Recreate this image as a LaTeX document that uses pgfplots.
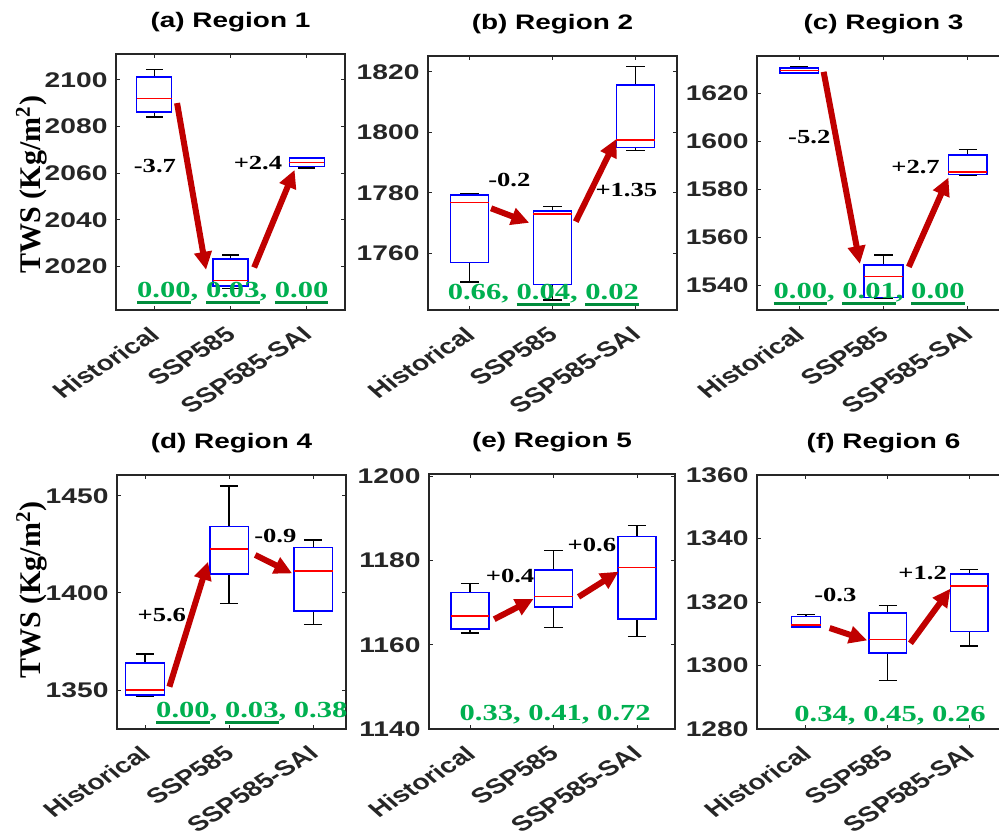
\documentclass[border=0pt]{standalone}
\usepackage{pgfplots}
\pgfplotsset{compat=1.18}
\usepgfplotslibrary{statistics}
\usetikzlibrary{arrows.meta}
\usepackage{fontspec}
\setmainfont{Liberation Sans}
\newfontfamily\tnr{Liberation Serif}
\definecolor{axgray}{RGB}{38,38,38}
\definecolor{pgreen}{RGB}{0,176,80}
\definecolor{ugreen}{RGB}{0,140,60}
\definecolor{arrred}{RGB}{192,0,0}

\newsavebox\ulbox
\newcommand{\ul}[1]{\sbox\ulbox{#1}\rlap{\color{ugreen}\rule[-3.3pt]{\wd\ulbox}{1.5pt}}\usebox\ulbox}

\tikzset{
  ann/.style={font=\tnr\bfseries\fontsize{10}{12}\selectfont, text=black, inner sep=0pt, xscale=1.33},
  pv/.style={font=\tnr\bfseries\fontsize{11.5}{13}\selectfont, text=pgreen, inner sep=0pt, xscale=1.33},
  arr/.style={draw=arrred, line width=3pt, -{Triangle[length=9pt, width=8.5pt]}},
}
\pgfplotsset{
  boxplot/every box/.style={draw=blue, line width=0.75pt},
  boxplot/every median/.style={draw=red, line width=0.75pt},
  boxplot/every whisker/.style={draw=black, line width=0.65pt},
  panel/.style={
    scale only axis, anchor=north west, clip=false,
    axis line style={draw=axgray, line width=0.8pt},
    major tick style={draw=axgray, line width=0.5pt},
    major tick length=2.2pt, tick align=inside,
    xtick={1,2,3}, xticklabels={Historical,SSP585,SSP585-SAI},
    xticklabel style={font=\bfseries\fontsize{10.6}{12}\selectfont, text=axgray, inner sep=0pt, anchor=north east, xshift=-3pt, yshift=-7.5pt, xscale=1.33, rotate=40},
    yticklabel style={font=\bfseries\fontsize{10.6}{12}\selectfont, text=axgray, inner sep=0pt, anchor=east, xshift=-4pt, xscale=1.33},
    /pgf/number format/assume math mode=true,
    /pgf/number format/1000 sep={},
    title style={font=\bfseries\fontsize{10.5}{12}\selectfont, text=black, at={(rel axis cs:0.5,1)}, anchor=center, yshift=9.75pt, xscale=1.33},
    ylabel style={font=\tnr\bfseries\fontsize{15}{17}\selectfont, anchor=center},
    boxplot/draw direction=y,
    boxplot/box extend=0.46,
    boxplot/whisker extend=0.22,
  },
}
\newcommand{\bx}[6]{\addplot[boxplot prepared={draw position=#1, lower whisker=#2, lower quartile=#3, median=#4, upper quartile=#5, upper whisker=#6}] coordinates {};}
\newcommand{\arrow}[4]{\draw[arr] (axis cs:#1,#2) -- (axis cs:#3,#4);}

\begin{document}
\begin{tikzpicture}
% (a)
\begin{axis}[panel, at={(58pt,-27pt)}, width=114.5pt, height=128pt,
  xmin=0.5, xmax=3.5, ymin=2001.4, ymax=2111, ytick={2020,2040,2060,2080,2100},
  title={(a) Region 1}, ylabel={TWS (Kg/m\textsuperscript{2})},
  ylabel style={at={(axis description cs:-0.369,0.49)}}]
\bx{1}{2084.0}{2086.2}{2091.9}{2101.1}{2104.3}
\bx{2}{2010.7}{2011.7}{2014.0}{2023.3}{2025.0}
\bx{3}{2062.2}{2062.9}{2064.6}{2066.4}{2066.8}
\arrow{1.30}{2090}{1.68}{2018.6}
\arrow{2.31}{2019.6}{2.84}{2061.4}
\node[ann] at (axis cs:1.01,2062.9) {-3.7};
\node[ann] at (axis cs:2.36,2064.3) {+2.4};
\node[pv] at (axis cs:2.03,2008.7) {\ul{0.00}, \ul{0.03}, \ul{0.00}};
\end{axis}
% (b)
\begin{axis}[panel, at={(214pt,-28pt)}, width=124.5pt, height=127pt,
  xmin=0.5, xmax=3.5, ymin=1741.3, ymax=1825.2, ytick={1760,1780,1800,1820},
  title={(b) Region 2}]
\bx{1}{1750.6}{1757.0}{1776.8}{1779.3}{1779.8}
\bx{2}{1744.6}{1749.8}{1773.0}{1774.0}{1775.4}
\bx{3}{1794.1}{1794.9}{1797.4}{1815.6}{1821.7}
\arrow{1.26}{1774.9}{1.72}{1770.1}
\arrow{2.28}{1770.5}{2.77}{1797.8}
\node[ann] at (axis cs:1.48,1784.2) {-0.2};
\node[ann] at (axis cs:2.89,1780.9) {+1.35};
\node[pv] at (axis cs:1.89,1746.3) {0.66, \ul{0.04}, \ul{0.02}};
\end{axis}
% (c)
\begin{axis}[panel, at={(378.5pt,-28pt)}, width=126.5pt, height=127pt,
  xmin=0.5, xmax=3.5, ymin=1529.6, ymax=1635.6, ytick={1540,1560,1580,1600,1620},
  title={(c) Region 3}]
\bx{1}{1628.3}{1628.6}{1629.6}{1630.7}{1631.0}
\bx{2}{1534.4}{1534.9}{1543.5}{1548.3}{1552.5}
\bx{3}{1585.9}{1586.2}{1587.3}{1594.2}{1596.6}
\arrow{1.29}{1629}{1.72}{1548.8}
\arrow{2.30}{1547.6}{2.77}{1584.9}
\node[ann] at (axis cs:1.12,1601.9) {-5.2};
\node[ann] at (axis cs:2.38,1589.4) {+2.7};
\node[pv] at (axis cs:1.83,1536.2) {\ul{0.00}, \ul{0.01}, \ul{0.00}};
\end{axis}
% (d)
\begin{axis}[panel, at={(58.5pt,-237.5pt)}, width=114.5pt, height=127pt,
  xmin=0.667, xmax=3.39, ymin=1329.9, ymax=1460.8, ytick={1350,1400,1450},
  title={(d) Region 4}, ylabel={TWS (Kg/m\textsuperscript{2})},
  ylabel style={at={(axis description cs:-0.372,0.547)}}]
\bx{1}{1346.6}{1347.4}{1350.0}{1363.8}{1368.6}
\bx{2}{1394.7}{1409.8}{1422.7}{1434.2}{1455.2}
\bx{3}{1383.9}{1390.7}{1411.3}{1423.5}{1427.3}
\arrow{1.29}{1351.7}{1.75}{1416.1}
\arrow{2.31}{1419.6}{2.75}{1410.1}
\node[ann] at (axis cs:1.20,1388.7) {+5.6};
\node[ann] at (axis cs:2.55,1429.4) {-0.9};
\node[pv] at (axis cs:2.27,1338) {\ul{0.00}, \ul{0.03}, 0.38};
\end{axis}
% (e)
\begin{axis}[panel, at={(214.5pt,-237pt)}, width=123pt, height=127.5pt,
  xmin=0.509, xmax=3.455, ymin=1140, ymax=1200.6, ytick={1140,1160,1180,1200},
  title={(e) Region 5}]
\bx{1}{1162.8}{1163.8}{1166.9}{1172.5}{1174.5}
\bx{2}{1164.2}{1169.0}{1171.5}{1177.8}{1182.4}
\bx{3}{1162.0}{1166.1}{1178.4}{1185.8}{1188.3}
\arrow{1.29}{1166.1}{1.76}{1170.9}
\arrow{2.30}{1171.4}{2.78}{1177.4}
\node[ann] at (axis cs:1.48,1176.3) {+0.4};
\node[ann] at (axis cs:2.46,1183.8) {+0.6};
\node[pv] at (axis cs:2.02,1143.4) {0.33, 0.41, 0.72};
\end{axis}
% (f)
\begin{axis}[panel, at={(378.5pt,-237.5pt)}, width=126.5pt, height=127pt,
  xmin=0.4, xmax=3.5, ymin=1280, ymax=1360, ytick={1280,1300,1320,1340,1360},
  title={(f) Region 6}]
\addplot[boxplot prepared={draw position=1, lower whisker=1311.9, lower quartile=1312.1, median=1312.8, upper quartile=1315.5, upper whisker=1316.1, box extend=0.36}] coordinates {};
\bx{2}{1295.3}{1303.9}{1308.2}{1316.5}{1319.0}
\bx{3}{1306.1}{1310.7}{1325.0}{1328.8}{1330.2}
\arrow{1.29}{1311.8}{1.75}{1307.9}
\arrow{2.28}{1307.0}{2.77}{1324.2}
\node[ann] at (axis cs:1.36,1322.1) {-0.3};
\node[ann] at (axis cs:2.43,1329.0) {+1.2};
\node[pv] at (axis cs:2.03,1284.2) {0.34, 0.45, 0.26};
\end{axis}
\pgfresetboundingbox
\useasboundingbox (0,0) rectangle (499.5pt,-416pt);
\end{tikzpicture}
\end{document}
